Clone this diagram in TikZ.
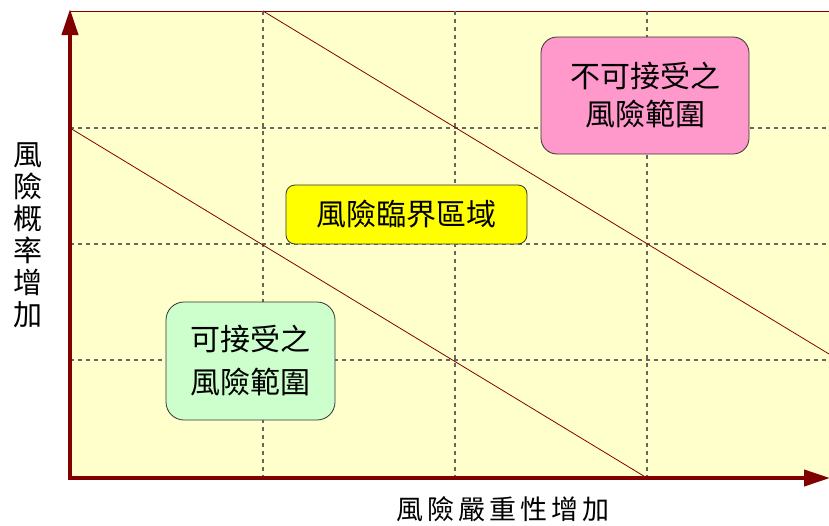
\documentclass[tikz,border=0pt]{standalone}
\usepackage{fontspec}
\newfontfamily\cjk{Noto Sans CJK TC}
\usetikzlibrary{arrows.meta}
\definecolor{bgyel}{HTML}{FFFFCC}
\definecolor{pinkbox}{HTML}{FF99CC}
\definecolor{yelbox}{HTML}{FFFF00}
\definecolor{greenbox}{HTML}{CCFFCC}
\definecolor{axred}{HTML}{800000}
\definecolor{gridgray}{HTML}{666666}
\tikzset{
  gridline/.style={draw=gridgray, line width=1.2pt, dash pattern=on 4pt off 4pt},
  diag/.style={draw=axred, line width=0.8pt},
  axisline/.style={draw=axred, line width=4pt, -{Triangle[length=26pt,width=16pt]}},
  zone/.style={draw=black!80, line width=0.8pt, align=center, inner sep=0pt},
  lab/.style={align=center, inner sep=0pt}
}
\begin{document}
\begin{tikzpicture}[x=1pt,y=-1pt]
\useasboundingbox (0,0) rectangle (829,525);
% background
\fill[bgyel] (70,11) rectangle (829,478);
\draw[axred, line width=0.8pt] (70,11) -- (829,11);
% grid
\foreach \x in {263,455,647} \draw[gridline] (\x,11) -- (\x,478);
\foreach \y in {128,244,360} \draw[gridline] (70,\y) -- (829,\y);
% diagonals
\coordinate (d1a) at (70,128);
\coordinate (d1b) at (647,478);
\coordinate (d2a) at (263,11);
\coordinate (d2b) at (829,354);
\draw[diag] (d1a) -- (d1b);
\draw[diag] (d2a) -- (d2b);
% axes
\coordinate (origin) at (70,480);
\coordinate (ytop) at (70,9);
\coordinate (xorigin) at (68,478);
\coordinate (xend) at (830,478);
\draw[axisline] (origin) -- (ytop);
\draw[axisline] (xorigin) -- (xend);
% zones
\node[zone, fill=pinkbox, rounded corners=16pt, minimum width=208pt, minimum height=117pt,
  font=\cjk\fontsize{30}{38}\selectfont] (unacc) at (645,95.5) {不可接受之\\風險範圍};
\node[zone, fill=yelbox, rounded corners=9pt, minimum width=241pt, minimum height=59pt,
  font=\cjk\fontsize{30}{36}\selectfont] (crit) at (406.5,214.5) {風險臨界區域};
\node[zone, fill=greenbox, rounded corners=18pt, minimum width=169pt, minimum height=118pt,
  font=\cjk\fontsize{30}{43}\selectfont] (acc) at (250.5,361) {可接受之\\風險範圍};
% axis labels
\node[lab, font=\cjk\fontsize{29}{32}\selectfont] (ylab) at (28,235) {風\\險\\概\\率\\增\\加};
\node[lab, font=\cjk\fontsize{27}{30}\selectfont] (xlab) at (503,509)
  {風\kern4pt 險\kern4pt 嚴\kern4pt 重\kern4pt 性\kern4pt 增\kern4pt 加};
\end{tikzpicture}
\end{document}
